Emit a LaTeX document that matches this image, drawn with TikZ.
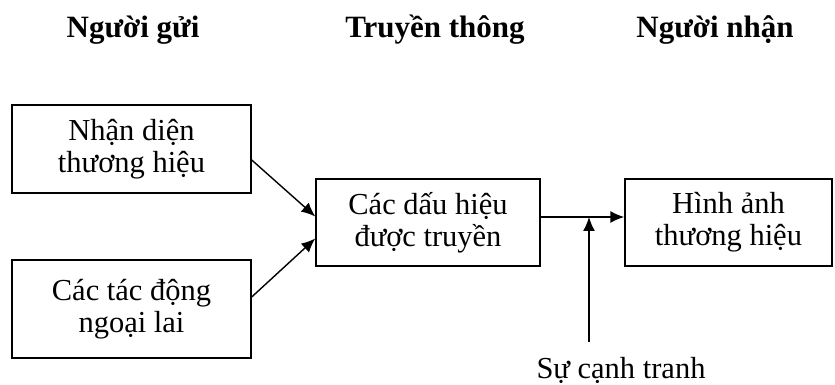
\documentclass[tikz,border=0pt]{standalone}
\usepackage{fontspec}
\setmainfont{Liberation Serif}
\usetikzlibrary{arrows.meta,calc}
\begin{document}
\begin{tikzpicture}[x=1pt,y=1pt,
  box/.style={draw,line width=1.4pt,minimum width=239pt,align=center,inner sep=0pt,
    font=\fontsize{30.5}{32}\selectfont},
  hdr/.style={font=\fontsize{31}{34}\selectfont\bfseries,inner sep=0pt},
  arr/.style={line width=1.4pt,-{Latex[length=14pt,width=12pt]}}]
\useasboundingbox (0,0) rectangle (835,385);
\node[hdr] (h1) at (133,355) {Người gửi};
\node[hdr] (h2) at (435,355) {Truyền thông};
\node[hdr] (h3) at (715,355) {Người nhận};
\node[box,minimum height=88pt] (b1) at (131.5,236) {Nhận diện\\thương hiệu};
\node[box,minimum height=98pt] (b2) at (131.5,76) {Các tác động\\ngoại lai};
\node[box,minimum width=224pt,minimum height=87pt] (b3) at (428,162.5) {Các dấu hiệu\\được truyền};
\node[box,minimum width=207pt,minimum height=87pt] (b4) at (728.5,162.5) {Hình ảnh\\thương hiệu};
\node[font=\fontsize{30.5}{32}\selectfont,inner sep=0pt] (comp) at (621,15) {Sự cạnh tranh};
\coordinate (j) at (589,168);
\coordinate (c0) at (589,43);
\draw[arr] ($(b1.east)+(0,-11)$) -- ($(b3.west)+(0,6)$);
\draw[arr] ($(b2.east)+(0,12)$) -- ($(b3.west)+(0,-16)$);
\draw[arr] ($(b3.east)+(0,5.5)$) -- ($(b4.west)+(0,5.5)$);
\draw[arr] (c0) -- (j);
\end{tikzpicture}
\end{document}
